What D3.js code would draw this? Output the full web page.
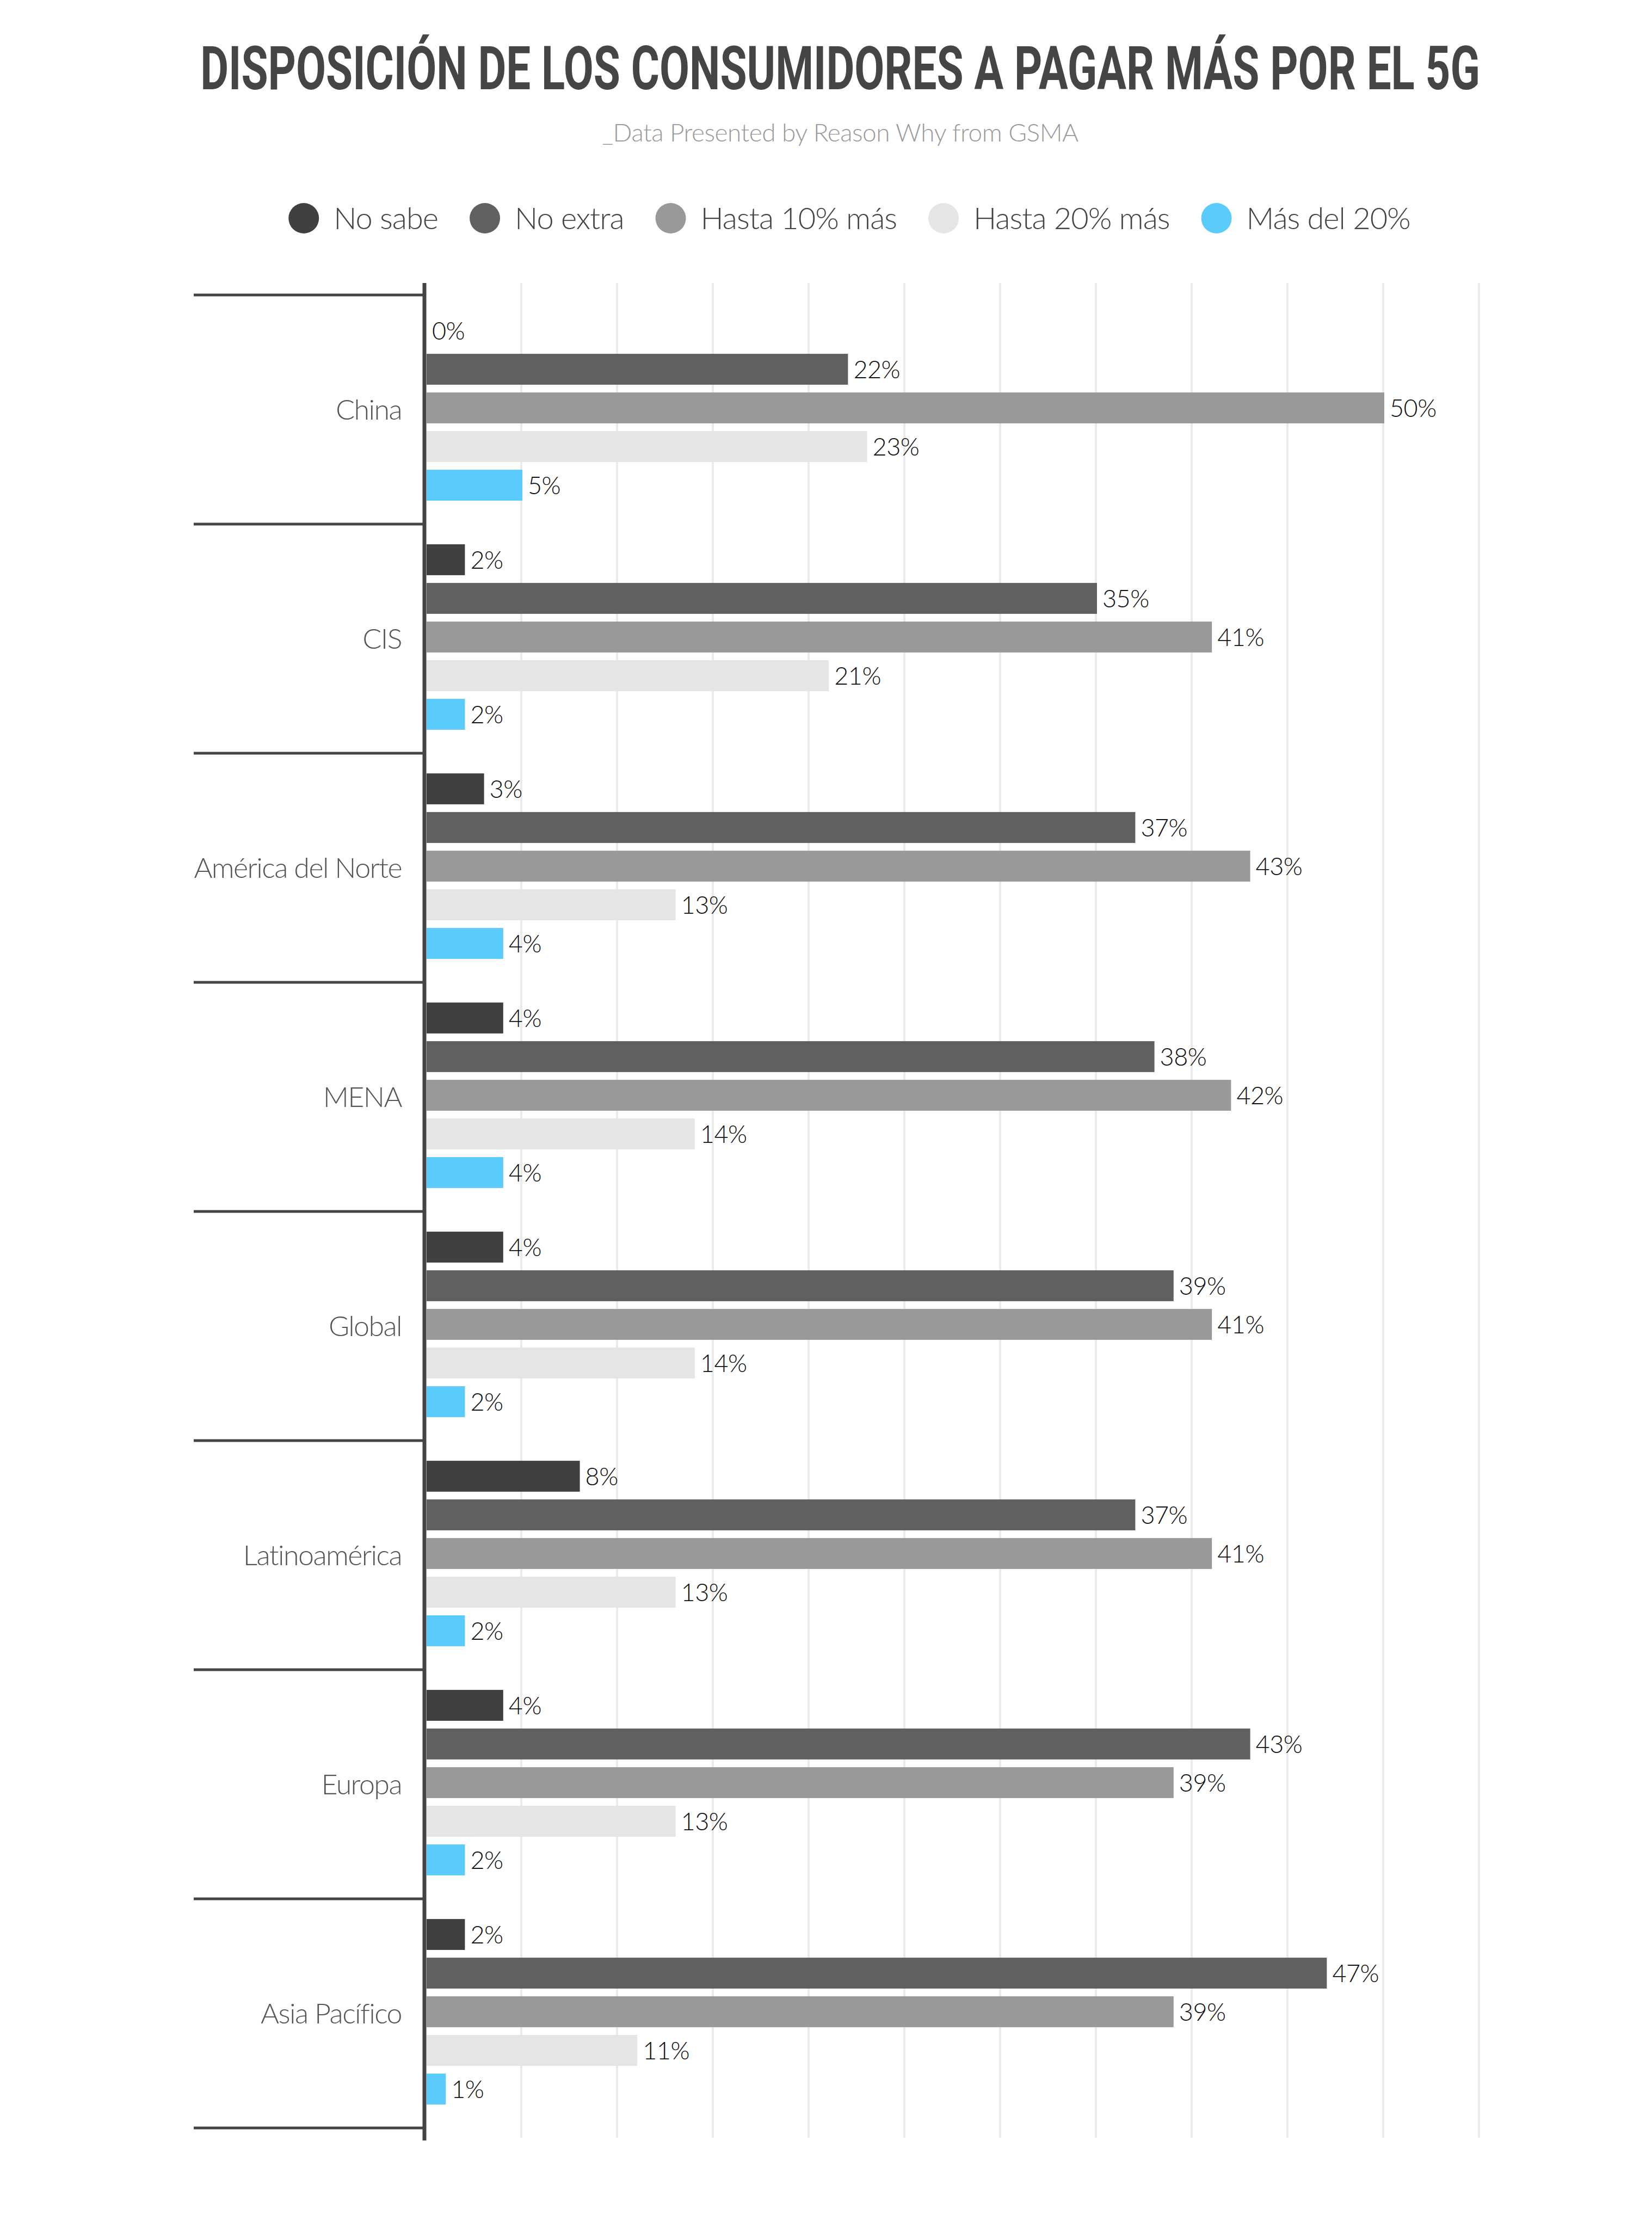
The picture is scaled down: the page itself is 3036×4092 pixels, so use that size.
<!DOCTYPE html>
<html>
<head>
<meta charset="utf-8">
<script src="https://cdnjs.cloudflare.com/ajax/libs/d3/7.8.5/d3.min.js"></script>
<style>
  html, body { margin: 0; padding: 0; background: #ffffff; }
  svg { display: block; }
</style>
</head>
<body>
<div id="chart"></div>
<script>
// ---------- DATA ----------
const categories = ["China", "CIS", "América del Norte", "MENA", "Global", "Latinoamérica", "Europa", "Asia Pacífico"];
const seriesNames = ["No sabe", "No extra", "Hasta 10% más", "Hasta 20% más", "Más del 20%"];
const noSabe    = [0, 2, 3, 4, 4, 8, 4, 2];
const noExtra   = [22, 35, 37, 38, 39, 37, 43, 47];
const hasta10   = [50, 41, 43, 42, 41, 41, 39, 39];
const hasta20   = [23, 21, 13, 14, 14, 13, 13, 11];
const masDel20  = [5, 2, 4, 4, 2, 2, 2, 1];
const gridTicks = [5, 10, 15, 20, 25, 30, 35, 40, 45, 50, 55];
const titleText = "DISPOSICIÓN DE LOS CONSUMIDORES A PAGAR MÁS POR EL 5G";
const subtitleText = "_Data Presented by Reason Why from GSMA";

// ---------- STYLES ----------
const seriesColors = ["#404040", "#606060", "#999999", "#e5e5e5", "#5bcbfb"];
const seriesValues = [noSabe, noExtra, hasta10, hasta20, masDel20];

const W = 3036, H = 4092;
const svg = d3.select("#chart").append("svg")
  .attr("width", W).attr("height", H)
  .attr("viewBox", `0 0 ${W} ${H}`);
svg.append("rect").attr("width", W).attr("height", H).attr("fill", "#ffffff");

const fontMain = "Lato, 'Noto Sans', 'DejaVu Sans', sans-serif";

// Title (condensed by horizontal scaling to match the narrow display face)
const titleG = svg.append("g");
const title = titleG.append("text")
  .attr("x", 0).attr("y", 0)
  .attr("text-anchor", "middle")
  .attr("font-family", "Roboto, 'DejaVu Sans Condensed', sans-serif")
  .attr("font-weight", 700)
  .attr("font-size", 111)
  .attr("fill", "#454545")
  .text(titleText);
const titleW = title.node().getComputedTextLength();
titleG.attr("transform", `translate(1544,164) scale(${2352 / titleW},1)`);

// Subtitle
svg.append("text")
  .attr("x", 1544).attr("y", 260)
  .attr("text-anchor", "middle")
  .attr("font-family", fontMain)
  .attr("font-weight", 300)
  .attr("font-size", 46)
  .attr("letter-spacing", -0.5)
  .attr("fill", "#9a9a9a")
  .text(subtitleText);

// Legend
const legend = svg.append("g");
let lx = 0;
seriesNames.forEach((name, i) => {
  const g = legend.append("g").attr("transform", `translate(${lx},0)`);
  g.append("circle").attr("cx", 28).attr("cy", 0).attr("r", 28).attr("fill", seriesColors[i]);
  const t = g.append("text")
    .attr("x", 83).attr("y", 0).attr("dy", "0.35em")
    .attr("font-family", fontMain).attr("font-weight", 300)
    .attr("font-size", 56).attr("fill", "#444444")
    .attr("letter-spacing", -1)
    .text(name);
  const tw = t.node().getComputedTextLength();
  lx += 83 + tw + 58;
});
const legendW = lx - 58;
legend.attr("transform", `translate(${1561 - legendW / 2},401)`);

// Scales
const y0 = d3.scaleBand().domain(categories).range([542, 3910]).paddingInner(0).paddingOuter(0);
const y1 = d3.scaleBand().domain(d3.range(seriesNames.length))
  .range([30, 385]).paddingInner(0.2).paddingOuter(0.1);
const x = d3.scaleLinear().domain([0, 55]).range([784, 784 + 55 * 35.2]);

// Gridlines
svg.append("g").selectAll("line").data(gridTicks).join("line")
  .attr("x1", d => x(d) - 2).attr("x2", d => x(d) - 2)
  .attr("y1", 520).attr("y2", 3928)
  .attr("stroke", "#ebebeb").attr("stroke-width", 4);

// Bars
const groups = svg.append("g").selectAll("g").data(categories).join("g")
  .attr("transform", d => `translate(0,${y0(d)})`);

groups.each(function(cat, ci) {
  const g = d3.select(this);
  const rows = seriesValues.map((arr, si) => ({ si, v: arr[ci] }));
  g.selectAll("rect").data(rows).join("rect")
    .attr("x", x(0))
    .attr("y", d => y1(d.si))
    .attr("width", d => x(d.v) - x(0))
    .attr("height", y1.bandwidth())
    .attr("fill", d => seriesColors[d.si]);
  g.selectAll("text.val").data(rows).join("text")
    .attr("class", "val")
    .attr("x", d => x(d.v) + 10)
    .attr("y", d => y1(d.si) + y1.bandwidth() / 2)
    .attr("dy", "0.36em")
    .attr("font-family", fontMain).attr("font-weight", 300)
    .attr("font-size", 45).attr("fill", "#111111")
    .attr("letter-spacing", -0.5)
    .text(d => d.v + "%");
});

// Category labels
svg.append("g").selectAll("text").data(categories).join("text")
  .attr("x", 738)
  .attr("y", d => y0(d) + y0.bandwidth() / 2)
  .attr("dy", "0.35em")
  .attr("text-anchor", "end")
  .attr("font-family", fontMain).attr("font-weight", 300)
  .attr("font-size", 52).attr("fill", "#555555")
  .attr("letter-spacing", -1.6)
  .text(d => d);

// Separator lines (group boundaries)
const bounds = categories.map(c => y0(c)).concat([y0.range()[1]]);
svg.append("g").selectAll("line").data(bounds).join("line")
  .attr("x1", 356).attr("x2", 780)
  .attr("y1", d => d).attr("y2", d => d)
  .attr("stroke", "#444444").attr("stroke-width", 5);

// Vertical axis line
svg.append("line")
  .attr("x1", 780).attr("x2", 780)
  .attr("y1", 520).attr("y2", 3933)
  .attr("stroke", "#444444").attr("stroke-width", 7);
</script>
</body>
</html>
